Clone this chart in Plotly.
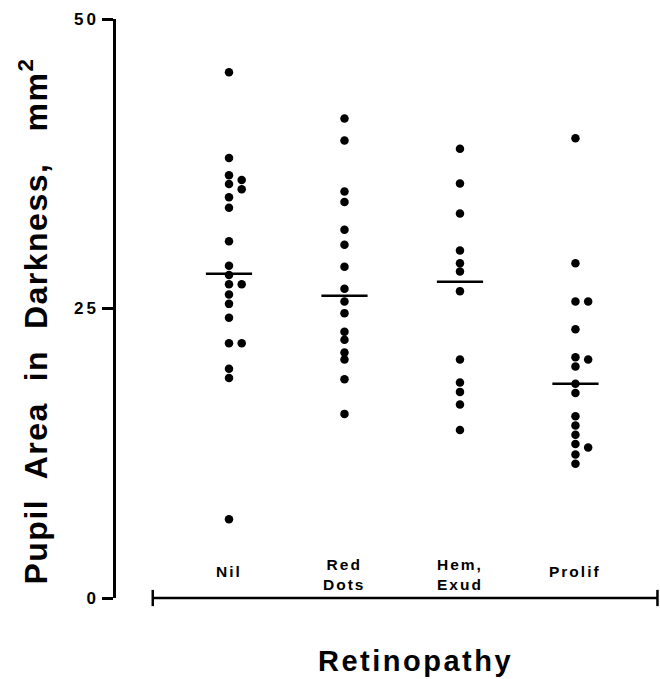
import plotly.graph_objects as go

# ---- data ----
categories = ["Nil", "Red<br>Dots", "Hem,<br>Exud", "Prolif"]
cat_pos = [1, 2, 3, 4]

nil_values = [45.4, 38.0, 36.5, 35.75, 36.1, 35.3, 34.6, 33.7, 30.8, 28.7, 27.9,
              27.1, 27.1, 26.2, 25.4, 24.2, 22.0, 22.0, 19.8, 19.0, 6.8]
nil_side = [0, 0, 0, 0, 1, 1, 0, 0, 0, 0, 0, 0, 1, 0, 0, 0, 0, 1, 0, 0, 0]

red_values = [41.4, 39.5, 35.1, 34.2, 31.8, 30.5, 28.6, 26.7, 25.6, 24.6,
              23.0, 22.3, 21.2, 20.6, 18.9, 15.9]
red_side = [0] * len(red_values)

hem_values = [38.8, 35.8, 33.2, 30.0, 28.9, 28.2, 26.5, 20.6, 18.6, 17.8, 16.7, 14.5]
hem_side = [0] * len(hem_values)

prolif_values = [39.7, 28.9, 25.6, 25.6, 23.2, 20.8, 20.6, 20.0, 18.5, 17.7,
                 15.7, 14.9, 14.1, 13.3, 13.0, 12.4, 11.6]
prolif_side = [0, 0, 0, 1, 0, 0, 1, 0, 0, 0, 0, 0, 0, 0, 1, 0, 0]

group_means = [28.0, 26.1, 27.3, 18.5]

y_tick_vals = [0, 25, 50]
y_tick_text = ["0", "25", "50"]

x_title = "Retinopathy"
y_title = "Pupil  Area  in  Darkness,   mm<sup>2</sup>"

# ---- build figure ----
FONT = "Liberation Sans, Arial, Helvetica, sans-serif"
offset = 0.11
groups = [(nil_values, nil_side), (red_values, red_side),
          (hem_values, hem_side), (prolif_values, prolif_side)]

xs, ys = [], []
for pos, (vals, side) in zip(cat_pos, groups):
    for v, s in zip(vals, side):
        xs.append(pos + s * offset)
        ys.append(v)

fig = go.Figure()
fig.add_trace(go.Scatter(x=xs, y=ys, mode="markers",
                         marker=dict(color="black", size=8.5, line=dict(width=0)),
                         showlegend=False, hoverinfo="skip", cliponaxis=False))

mx, my = [], []
half = 0.2
for pos, m in zip(cat_pos, group_means):
    mx += [pos - half, pos + half, None]
    my += [m, m, None]
fig.add_trace(go.Scatter(x=mx, y=my, mode="lines",
                         line=dict(color="black", width=2.5),
                         showlegend=False, hoverinfo="skip"))

# category labels
for pos, lab in zip(cat_pos, categories):
    two = "<br>" in lab
    fig.add_annotation(x=pos, y=(2.0 if two else 2.3), xref="x", yref="y",
                       text='<b><span style="letter-spacing:2px">' + lab + '</span></b>',
                       showarrow=False, yanchor="middle", xanchor="center",
                       font=dict(family=FONT, size=15.5, color="black"),
                       align="center")

# bottom (x) axis line with end ticks
x_left, x_right = 0.34, 4.71
fig.add_shape(type="line", xref="x", yref="paper", x0=x_left, x1=x_right, y0=0, y1=0,
              line=dict(color="black", width=2.5))
for xe in (x_left, x_right):
    fig.add_shape(type="line", xref="x", yref="paper", x0=xe, x1=xe, y0=-0.014, y1=0.014,
                  line=dict(color="black", width=2.5))

# x title
fig.add_annotation(x=0.55, y=-0.108, xref="paper", yref="paper",
                   text='<b><span style="letter-spacing:2.5px">' + x_title + '</span></b>',
                   showarrow=False, yanchor="middle", xanchor="center",
                   font=dict(family=FONT, size=29, color="black"))

# y title
fig.add_annotation(x=-0.152, y=0.478, xref="paper", yref="paper",
                   text='<b><span style="letter-spacing:1.5px">' + y_title + '</span></b>',
                   showarrow=False, yanchor="middle", xanchor="center", textangle=-90,
                   font=dict(family=FONT, size=32, color="black"))

fig.update_layout(
    width=660, height=679,
    margin=dict(l=116, r=0, t=19, b=81),
    paper_bgcolor="white", plot_bgcolor="white",
    xaxis=dict(range=[0.0216, 4.732], visible=False, showgrid=False, zeroline=False),
    yaxis=dict(range=[0, 50], showgrid=False, zeroline=False,
               showline=True, linecolor="black", linewidth=2.5,
               ticks="outside", ticklen=11, tickwidth=2.5, tickcolor="black",
               tickvals=y_tick_vals,
               ticktext=['<b><span style="letter-spacing:3px">' + t + '</span></b>' for t in y_tick_text],
               tickfont=dict(family=FONT, size=17, color="black")),
    font=dict(family=FONT, color="black"),
)

fig.write_html("out.html")
